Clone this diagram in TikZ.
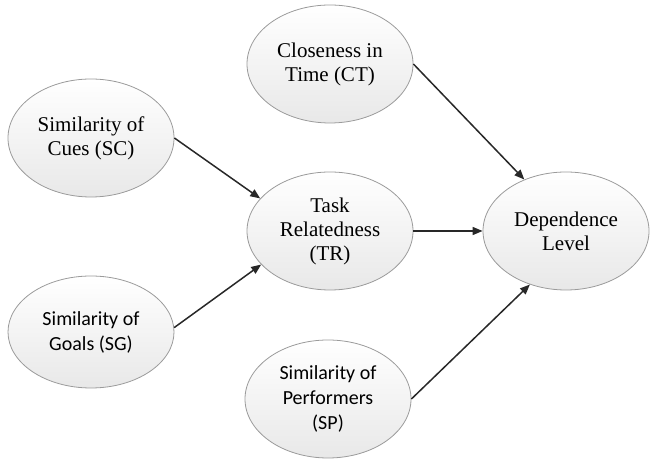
\documentclass[tikz,border=0pt]{standalone}
\usepackage{fontspec}
\setmainfont{Liberation Serif}
\newfontfamily\carlito{Carlito}
\usetikzlibrary{shapes.geometric,arrows.meta}
\definecolor{edgegray}{RGB}{155,155,155}
\definecolor{arrowgray}{RGB}{40,40,40}
\tikzset{
  bubble/.style={ellipse, draw=edgegray, line width=0.8pt, top color=white, bottom color=black!9,
    minimum width=166pt, minimum height=118pt, inner sep=0pt, align=center, text=black},
  serif/.style={font=\fontsize{21}{24}\selectfont},
  sans/.style={font=\carlito\fontsize{20}{25}\selectfont},
  link/.style={draw=arrowgray, line width=1.5pt, -{Triangle[length=10pt,width=8pt]}}
}
\begin{document}
\begin{tikzpicture}[x=1pt,y=1pt]
\useasboundingbox (0,0) rectangle (650,462);
\node[bubble,serif] (ct) at (330,398) {Closeness in\\Time (CT)};
\node[bubble,serif] (sc) at (91,324) {Similarity of\\Cues (SC)};
\node[bubble,serif] (tr) at (330,231) {Task\\Relatedness\\(TR)};
\node[bubble,serif] (dl) at (566,231) {Dependence\\Level};
\node[bubble,sans,minimum height=112pt] (sg) at (91,130) {Similarity of\\Goals (SG)};
\node[bubble,sans] (sp) at (328,63) {Similarity of\\Performers\\(SP)};
\draw[link] (sc.east) -- (tr.155);
\draw[link] (sg.3) -- (tr.206);
\draw[link] (ct.east) -- (dl.129);
\draw[link] (tr.east) -- (dl.west);
\draw[link] (sp.east) -- (dl.236);
\end{tikzpicture}
\end{document}
